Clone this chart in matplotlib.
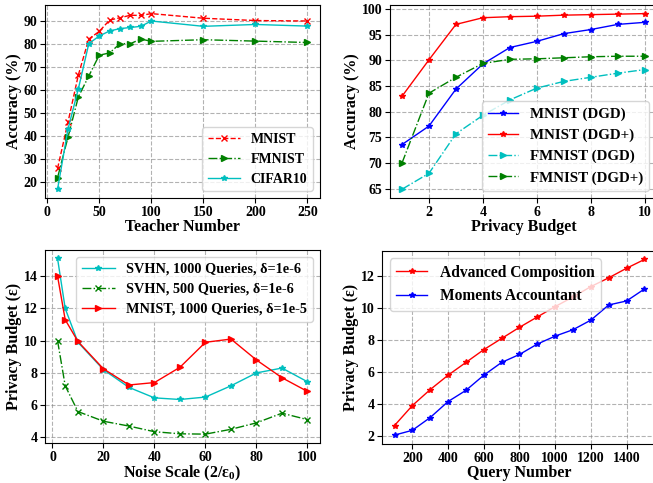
import matplotlib
matplotlib.use('Agg')
import matplotlib.pyplot as plt

plt.rcParams['font.family'] = ['Liberation Serif', 'DejaVu Serif']
plt.rcParams['font.weight'] = 'bold'
plt.rcParams['axes.labelweight'] = 'bold'
plt.rcParams['mathtext.fontset'] = 'custom'
plt.rcParams['mathtext.rm'] = 'Liberation Serif:bold'
plt.rcParams['mathtext.bf'] = 'Liberation Serif:bold'
plt.rcParams['mathtext.default'] = 'bf'

# (a) accuracy vs teacher number
teachers = [10, 20, 30, 40, 50, 60, 70, 80, 90, 100, 150, 200, 250]
acc_mnist = [26, 46, 66.5, 82, 85.3, 90.2, 91.2, 92.3, 92.2, 93, 91, 90, 89.8]
acc_fmnist = [22, 39.5, 57, 66, 75, 76, 80, 80, 82, 81, 81.7, 81.1, 80.5]
acc_cifar = [17, 43, 60.5, 80, 83.3, 85.5, 86.5, 87, 87.5, 89.8, 87.5, 88.3, 87.6]

# (b) accuracy vs privacy budget
budget = [1, 2, 3, 4, 5, 6, 7, 8, 9, 10]
mnist_dgd = [73.6, 77.2, 84.4, 89.3, 92.5, 93.7, 95.2, 96, 97, 97.4]
mnist_dgdp = [83, 90.1, 97, 98.3, 98.5, 98.6, 98.8, 98.9, 99, 99.1]
fmnist_dgd = [64.9, 68, 75.7, 79.3, 82.3, 84.6, 85.9, 86.7, 87.5, 88.2]
fmnist_dgdp = [70, 83.6, 86.7, 89.4, 90.2, 90.3, 90.5, 90.7, 90.8, 90.8]

# (c) privacy budget vs noise scale
noise = [2, 5, 10, 20, 30, 40, 50, 60, 70, 80, 90, 100]
svhn_1000 = [15.1, 12, 9.9, 8.2, 7.1, 6.45, 6.35, 6.5, 7.2, 8, 8.3, 7.45]
svhn_500 = [10, 7.2, 5.6, 5.0, 4.7, 4.35, 4.22, 4.2, 4.5, 4.9, 5.5, 5.1]
mnist_1000 = [14, 11.3, 9.95, 8.25, 7.25, 7.4, 8.35, 9.9, 10.1, 8.8, 7.7, 6.85]

# (d) privacy budget vs query number
queries = [100, 200, 300, 400, 500, 600, 700, 800, 900, 1000, 1100, 1200, 1300, 1400, 1500]
adv_comp = [2.65, 3.9, 4.9, 5.8, 6.6, 7.4, 8.1, 8.8, 9.45, 10.1, 10.7, 11.35, 11.9, 12.5, 13.05]
moments = [2.05, 2.35, 3.15, 4.15, 4.85, 5.8, 6.6, 7.1, 7.75, 8.25, 8.65, 9.25, 10.2, 10.45, 11.2]

fig = plt.figure(figsize=(6.53, 4.83), dpi=100)
ax1 = fig.add_axes([0.069, 0.590, 0.421, 0.400])
ax2 = fig.add_axes([0.597, 0.590, 0.409, 0.400])
ax3 = fig.add_axes([0.069, 0.083, 0.421, 0.400])
ax4 = fig.add_axes([0.585, 0.081, 0.421, 0.400])

ms = 4
lw = 1
tfs = 10
afs = 11.5

ax1.plot(teachers, acc_mnist, 'r--', marker='x', ms=ms, lw=lw, label='MNIST')
ax1.plot(teachers, acc_fmnist, 'g-.', marker='>', ms=ms, lw=lw, label='FMNIST')
ax1.plot(teachers, acc_cifar, 'c-', marker='*', ms=ms, lw=lw, label='CIFAR10')
ax1.set_xticks([0, 50, 100, 150, 200, 250])
ax1.set_yticks(range(20, 91, 10))
ax1.set_xlabel('Teacher Number', fontsize=afs, labelpad=0)
ax1.set_ylabel('Accuracy (%)', fontsize=afs, labelpad=1)
ax1.legend(loc='lower right', fontsize=10, numpoints=1, handlelength=2.3)

ax2.plot(budget, mnist_dgd, 'b-', marker='*', ms=ms, lw=lw, label='MNIST (DGD)')
ax2.plot(budget, mnist_dgdp, 'r-', marker='*', ms=ms, lw=lw, label='MNIST (DGD+)')
ax2.plot(budget, fmnist_dgd, 'c-.', marker='>', ms=ms, lw=lw, label='FMNIST (DGD)')
ax2.plot(budget, fmnist_dgdp, 'g-.', marker='>', ms=ms, lw=lw, label='FMNIST (DGD+)')
ax2.set_xticks([2, 4, 6, 8, 10])
ax2.set_yticks(range(65, 101, 5))
ax2.set_xlabel('Privacy Budget', fontsize=afs, labelpad=0)
ax2.set_ylabel('Accuracy (%)', fontsize=afs, labelpad=1)
ax2.legend(loc='lower right', fontsize=10.8, numpoints=1, handlelength=2.0)

ax3.plot(noise, svhn_1000, 'c-', marker='*', ms=ms, lw=lw, label='SVHN, 1000 Queries, δ=1e-6')
ax3.plot(noise, svhn_500, 'g-.', marker='x', ms=ms, lw=lw, label='SVHN, 500 Queries, δ=1e-6')
ax3.plot(noise, mnist_1000, 'r-', marker='>', ms=ms, lw=lw, label='MNIST, 1000 Queries, δ=1e-5')
ax3.set_xticks(range(0, 101, 20))
ax3.set_yticks(range(4, 15, 2))
ax3.set_xlabel(r'Noise Scale (2/ε$_0$)', fontsize=afs, labelpad=0)
ax3.set_ylabel('Privacy Budget (ε)', fontsize=afs, labelpad=1)
ax3.legend(loc='upper right', fontsize=10.3, numpoints=1, handlelength=2.3)

ax4.plot(queries, adv_comp, 'r-', marker='*', ms=ms, lw=lw, label='Advanced Composition')
ax4.plot(queries, moments, 'b-', marker='*', ms=ms, lw=lw, label='Moments Accountant')
ax4.set_xticks(range(200, 1401, 200))
ax4.set_yticks(range(2, 13, 2))
ax4.set_xlabel('Query Number', fontsize=afs, labelpad=0)
ax4.set_ylabel('Privacy Budget (ε)', fontsize=afs, labelpad=1)
ax4.legend(loc='upper left', fontsize=11.2, numpoints=1, handlelength=2.0)

for ax in [ax1, ax2, ax3, ax4]:
    ax.grid(True, linestyle='--', color='gray', alpha=0.6)
    ax.tick_params(labelsize=tfs, pad=2)
    ax.set_axisbelow(True)

fig.savefig('out.png', dpi=100)
